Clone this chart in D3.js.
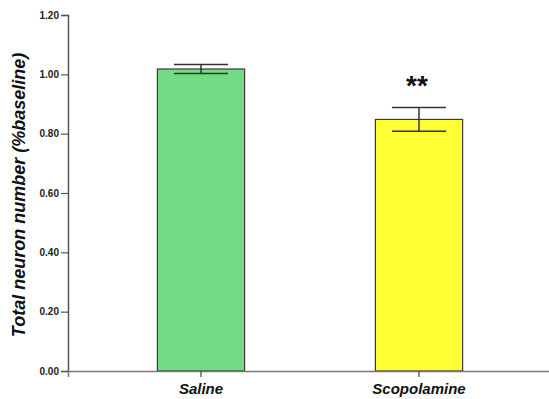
<!DOCTYPE html>
<html>
<head>
<meta charset="utf-8">
<script src="https://cdn.jsdelivr.net/npm/d3@7"></script>
<style>
  html, body { margin: 0; padding: 0; background: #fff; }
  svg { display: block; font-family: "Liberation Sans", Arial, sans-serif; }
</style>
</head>
<body>
<svg id="chart" width="549" height="399"></svg>
<script>
// Group means and error half-widths (fraction of baseline)
const groups = ["Saline", "Scopolamine"];
const means = [1.018, 0.848];
const errors = [0.015, 0.040];
const barColors = ["#72DB86", "#FFFF33"];
const significance = ["", "**"];
const yTicks = [0, 0.2, 0.4, 0.6, 0.8, 1.0, 1.2];

const svg = d3.select("#chart");
const plotLeft = 68, plotTop = 15, plotBottom = 371, plotRight = 552;

const y = d3.scaleLinear().domain([0, 1.2]).range([plotBottom, plotTop]);
const x = d3.scaleBand().domain(groups).range([plotLeft, plotRight])
  .paddingInner(0.6).paddingOuter(0.41);

const data = groups.map((g, i) => ({ g, m: means[i], e: errors[i], c: barColors[i], s: significance[i] }));

// Bars
svg.selectAll("rect.bar").data(data).enter().append("rect")
  .attr("class", "bar")
  .attr("x", d => x(d.g))
  .attr("y", d => y(d.m))
  .attr("width", x.bandwidth())
  .attr("height", d => y(0) - y(d.m))
  .attr("fill", d => d.c)
  .attr("stroke", "#3a3a3a")
  .attr("stroke-width", 1.2);

// Error bars
const capHalf = x.bandwidth() * 0.31;
const eb = svg.selectAll("g.err").data(data).enter().append("g").attr("class", "err")
  .attr("stroke", "#333").attr("stroke-width", 1.5);
eb.append("line")
  .attr("x1", d => x(d.g) + x.bandwidth() / 2).attr("x2", d => x(d.g) + x.bandwidth() / 2)
  .attr("y1", d => y(d.m - d.e)).attr("y2", d => y(d.m + d.e));
eb.append("line")
  .attr("x1", d => x(d.g) + x.bandwidth() / 2 - capHalf).attr("x2", d => x(d.g) + x.bandwidth() / 2 + capHalf)
  .attr("y1", d => y(d.m + d.e)).attr("y2", d => y(d.m + d.e));
eb.append("line")
  .attr("x1", d => x(d.g) + x.bandwidth() / 2 - capHalf).attr("x2", d => x(d.g) + x.bandwidth() / 2 + capHalf)
  .attr("y1", d => y(d.m - d.e)).attr("y2", d => y(d.m - d.e));

// Significance marks
svg.selectAll("text.sig").data(data.filter(d => d.s)).enter().append("text")
  .attr("class", "sig")
  .attr("x", d => x(d.g) + x.bandwidth() / 2 - 2)
  .attr("y", d => y(d.m + d.e) - 13)
  .attr("text-anchor", "middle")
  .attr("font-size", 28).attr("font-weight", "bold")
  .attr("fill", "#111")
  .text(d => d.s);

// Y axis
const yAxis = svg.append("g").attr("transform", `translate(${plotLeft},0)`)
  .call(d3.axisLeft(y).tickValues(yTicks).tickFormat(d3.format(".2f")).tickSizeOuter(0).tickSize(7));
yAxis.select(".domain").attr("stroke", "#555").attr("stroke-width", 1.5);
yAxis.selectAll(".tick line").attr("stroke", "#555").attr("stroke-width", 1.2);
yAxis.selectAll(".tick text").attr("font-size", 10).attr("font-weight", "bold")
  .attr("fill", "#222").attr("x", -9).attr("font-family", "Liberation Sans, Arial, sans-serif");

// X axis
const xAxis = svg.append("g").attr("transform", `translate(0,${plotBottom})`)
  .call(d3.axisBottom(x).tickSizeOuter(0).tickSize(6));
xAxis.select(".domain").attr("stroke", "#777").attr("stroke-width", 1.5);
xAxis.selectAll(".tick line").attr("stroke", "#444").attr("stroke-width", 1.2);
xAxis.selectAll(".tick text").attr("font-size", 15).attr("font-weight", "bold")
  .attr("font-style", "italic").attr("fill", "#111").attr("dy", "0").attr("y", 23)
  .attr("font-family", "Liberation Sans, Arial, sans-serif");

// Y axis title
svg.append("text")
  .attr("transform", "translate(25,195) rotate(-90)")
  .attr("text-anchor", "middle")
  .attr("font-size", 18).attr("font-weight", "bold").attr("font-style", "italic")
  .attr("fill", "#111")
  .text("Total neuron number (%baseline)");
</script>
</body>
</html>
